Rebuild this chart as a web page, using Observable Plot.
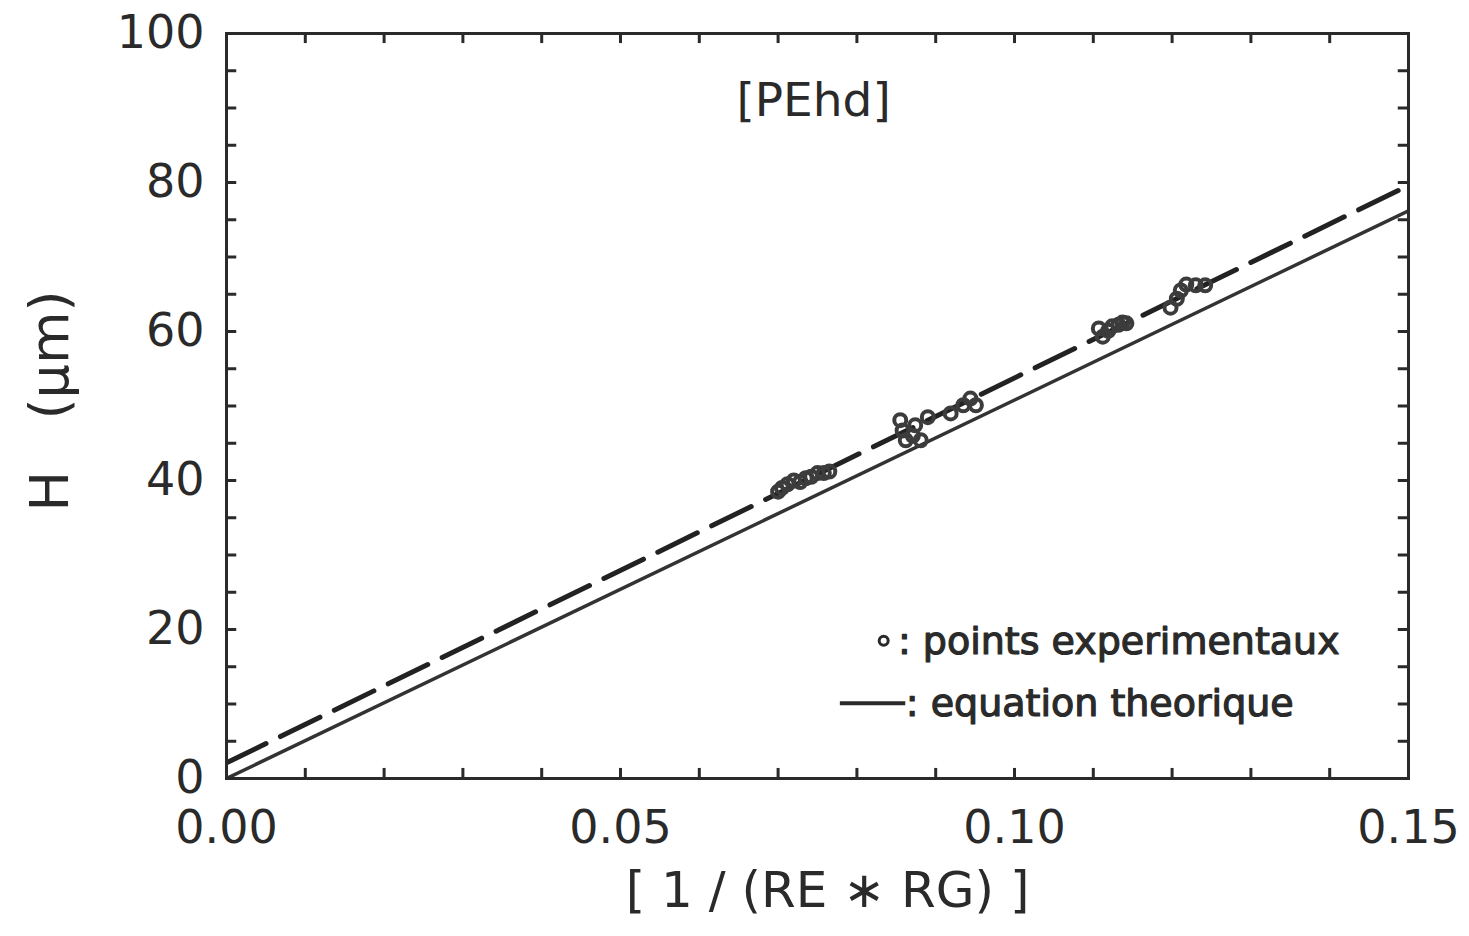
<!DOCTYPE html>
<html>
<head>
<meta charset="utf-8">
<script src="https://cdn.jsdelivr.net/npm/d3@7"></script>
<script src="https://cdn.jsdelivr.net/npm/@observablehq/plot@0.6"></script>
<style>
html,body{margin:0;padding:0;background:#fff;overflow:hidden;}
#chart svg{display:block;}
</style>
</head>
<body>
<div id="chart"></div>
<script>
// Experimental points
const expX = [0.0700,0.0705,0.0712,0.0720,0.0728,0.0735,0.0742,0.0750,0.0758,0.0765,
              0.0855,0.0858,0.0862,0.0871,0.0874,0.0881,0.0890,0.0919,0.0935,0.0944,0.0951,
              0.1107,0.1112,0.1119,0.1124,0.1132,0.1137,0.1142,
              0.1198,0.1206,0.1211,0.1218,0.1230,0.1242];
const expY = [38.5,39.0,39.5,40.0,39.8,40.3,40.5,41.0,41.0,41.2,
              48.1,46.7,45.4,46.0,47.4,45.4,48.5,49.0,50.1,51.0,50.1,
              60.4,59.3,60.1,60.7,60.9,61.2,61.1,
              63.2,64.4,65.5,66.3,66.2,66.2];
// Theoretical equation (solid) and fitted line (dashed)
const lineX = [0, 0.15];
const theoY = [0, 76.2];
const fitY = [2.1, 79.6];
// Ticks
const xLabelTicks = [0, 0.05, 0.10, 0.15];
const yLabelTicks = [0, 20, 40, 60, 80, 100];
const xMinorTicks = d3.range(0, 16).map(i => i / 100);
const yMinorTicks = d3.range(0, 21).map(i => i * 5);

const pts = expX.map((x, i) => ({x, y: expY[i]}));
const theo = lineX.map((x, i) => ({x, y: theoY[i]}));
const fit = lineX.map((x, i) => ({x, y: fitY[i]}));

const ink = "#2a2a2a";
const font = "DejaVu Sans";

const chart = Plot.plot({
  width: 1469,
  height: 936,
  marginLeft: 226,
  marginRight: 61,
  marginTop: 33,
  marginBottom: 158,
  style: {fontFamily: font, color: ink, background: "#fff"},
  x: {domain: [0, 0.15]},
  y: {domain: [0, 100]},
  marks: [
    Plot.axisX({ticks: xLabelTicks, tickSize: 0, tickPadding: 32, tickFormat: d3.format(".2f"), fontSize: 46, label: null}),
    Plot.axisY({ticks: yLabelTicks, tickSize: 0, tickPadding: 22, tickFormat: d3.format("d"), fontSize: 46, label: null}),
    // inward tick marks
    Plot.ruleX(xMinorTicks, {x: d => d, y1: 0, y2: 1.35, stroke: ink, strokeWidth: 3}),
    Plot.ruleX(xMinorTicks, {x: d => d, y1: 100, y2: 98.65, stroke: ink, strokeWidth: 3}),
    Plot.ruleY(yMinorTicks, {y: d => d, x1: 0, x2: 0.0013, stroke: ink, strokeWidth: 3}),
    Plot.ruleY(yMinorTicks, {y: d => d, x1: 0.15, x2: 0.1487, stroke: ink, strokeWidth: 3}),
    Plot.line(theo, {x: "x", y: "y", stroke: "#333", strokeWidth: 3.5, clip: true}),
    Plot.line(fit, {x: "x", y: "y", stroke: "#222", strokeWidth: 5, strokeDasharray: "44,16", clip: true}),
    Plot.dot(pts, {x: "x", y: "y", r: 6, stroke: "#3c3c3c", strokeWidth: 4, fill: "none"}),
    Plot.frame({stroke: ink, strokeWidth: 3}),
    // title annotation
    Plot.text(["[PEhd]"], {x: 0.0745, y: 91, text: d => d, fontSize: 47, fill: ink}),
    // legend
    Plot.dot([0], {x: 0.0834, y: 18.5, r: 4.5, stroke: ink, strokeWidth: 3, fill: "none"}),
    Plot.text([": points experimentaux"], {x: 0.0852, y: 18.3, text: d => d, textAnchor: "start", fontSize: 38, fill: ink, stroke: ink, strokeWidth: 1.2}),
    Plot.ruleY([10.1], {x1: 0.0779, x2: 0.0862, stroke: ink, strokeWidth: 4}),
    Plot.text([": equation theorique"], {x: 0.0862, y: 10.0, text: d => d, textAnchor: "start", fontSize: 38, fill: ink, stroke: ink, strokeWidth: 1.2}),
    // axis labels
    Plot.text(["[ 1 / (RE ∗ RG) ]"], {frameAnchor: "bottom", dy: 128, dx: 10, text: d => d, fontSize: 50, fill: ink}),
    Plot.text(["H   (μm)"], {frameAnchor: "left", textAnchor: "middle", dx: -176, dy: -5, rotate: -90, text: d => d, fontSize: 54, fill: ink})
  ]
});
document.getElementById("chart").append(chart);
</script>
</body>
</html>
